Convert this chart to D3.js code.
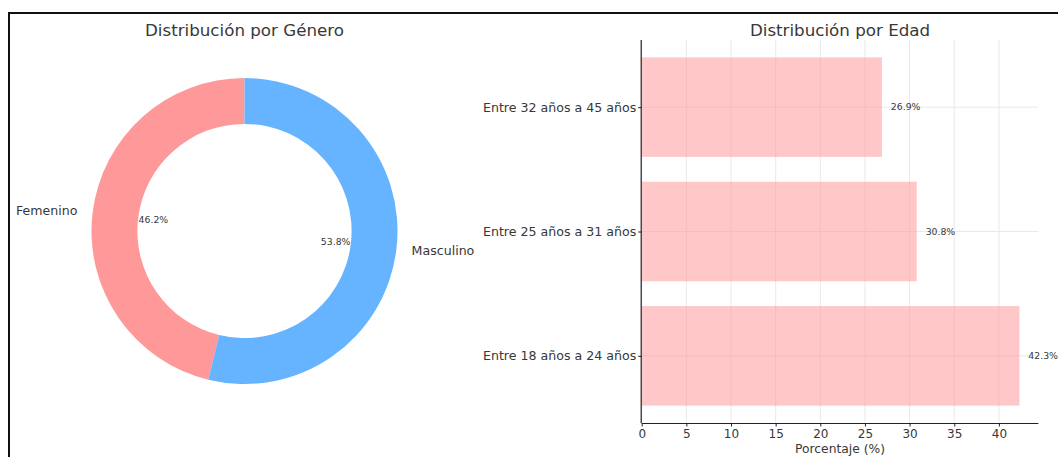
<!DOCTYPE html>
<html>
<head>
<meta charset="utf-8">
<script src="https://cdn.jsdelivr.net/npm/d3@7"></script>
<style>
  html, body { margin: 0; padding: 0; background: #fff; }
  svg { display: block; font-family: "DejaVu Sans", sans-serif; }
</style>
</head>
<body>
<svg id="chart" width="1058" height="457"></svg>
<script>
// Gender split (donut)
const genderLabels = ["Femenino", "Masculino"];
const genderValues = [46.2, 53.8];
const genderColors = ["#ff9999", "#66b3ff"];

// Age split (horizontal bars), listed bottom to top
const ageLabels = ["Entre 18 años a 24 años", "Entre 25 años a 31 años", "Entre 32 años a 45 años"];
const ageValues = [42.3, 30.8, 26.9];
const xTicks = [0, 5, 10, 15, 20, 25, 30, 35, 40];

const svg = d3.select("#chart");
const textColor = "#383838";

// Frame around the figure
svg.append("path")
  .attr("d", "M9,457 V13 H1058")
  .attr("fill", "none")
  .attr("stroke", "#111")
  .attr("stroke-width", 2);

// ---------- Donut ----------
const cx = 244.5, cy = 231, R = 153, r = R * 0.7;
const donut = svg.append("g").attr("transform", `translate(${cx},${cy})`);

svg.append("text")
  .attr("x", cx).attr("y", 36)
  .attr("text-anchor", "middle")
  .attr("font-size", 16.7)
  .attr("fill", textColor)
  .text("Distribución por Género");

// counter-clockwise from the top, first slice going left
const pie = d3.pie().sort(null).startAngle(0).endAngle(-2 * Math.PI);
const arcs = pie(genderValues);
const arc = d3.arc().innerRadius(r).outerRadius(R);

donut.selectAll("path.slice")
  .data(arcs)
  .join("path")
  .attr("class", "slice")
  .attr("d", arc)
  .attr("fill", (d, i) => genderColors[i]);

const labelArc = d3.arc().innerRadius(R * 1.1).outerRadius(R * 1.1);
const pctArc = d3.arc().innerRadius(R * 0.6).outerRadius(R * 0.6);

donut.selectAll("text.cat")
  .data(arcs)
  .join("text")
  .attr("class", "cat")
  .attr("x", d => labelArc.centroid(d)[0])
  .attr("y", d => labelArc.centroid(d)[1])
  .attr("dy", "0.35em")
  .attr("text-anchor", d => labelArc.centroid(d)[0] < 0 ? "end" : "start")
  .attr("font-size", 12.6)
  .attr("fill", textColor)
  .text((d, i) => genderLabels[i]);

donut.selectAll("text.pct")
  .data(arcs)
  .join("text")
  .attr("class", "pct")
  .attr("x", d => pctArc.centroid(d)[0])
  .attr("y", d => pctArc.centroid(d)[1])
  .attr("dy", "0.35em")
  .attr("text-anchor", "middle")
  .attr("font-size", 9.3)
  .attr("fill", textColor)
  .text(d => d.data.toFixed(1) + "%");

// ---------- Bars ----------
const plotLeft = 641.7, plotBottom = 423, plotTop = 40;
const x = d3.scaleLinear().domain([0, d3.max(ageValues) * 1.05]).range([plotLeft, plotLeft + 42.3 * 1.05 * 8.93]);
const y = d3.scaleLinear().domain([-0.54, ageLabels.length - 1 + 0.54]).range([plotBottom, plotTop]);
const barH = y(0) - y(0.8);
const plotRight = x.range()[1];

svg.append("text")
  .attr("x", (plotLeft + plotRight) / 2).attr("y", 36)
  .attr("text-anchor", "middle")
  .attr("font-size", 16.7)
  .attr("fill", textColor)
  .text("Distribución por Edad");

const grid = svg.append("g");
grid.selectAll("line.vx")
  .data(xTicks)
  .join("line")
  .attr("class", "vx")
  .attr("x1", d => x(d)).attr("x2", d => x(d))
  .attr("y1", plotTop).attr("y2", plotBottom)
  .attr("stroke", "#e6e6e6").attr("stroke-width", 0.9);
grid.selectAll("line.hy")
  .data(ageLabels.map((d, i) => i))
  .join("line")
  .attr("class", "hy")
  .attr("x1", plotLeft).attr("x2", plotRight)
  .attr("y1", d => y(d)).attr("y2", d => y(d))
  .attr("stroke", "#e6e6e6").attr("stroke-width", 0.9);

svg.selectAll("rect.bar")
  .data(ageValues)
  .join("rect")
  .attr("class", "bar")
  .attr("x", x(0))
  .attr("y", (d, i) => y(i) - barH / 2)
  .attr("width", d => x(d) - x(0))
  .attr("height", barH)
  .attr("fill", "#ff9999")
  .attr("fill-opacity", 0.55);

svg.selectAll("text.val")
  .data(ageValues)
  .join("text")
  .attr("class", "val")
  .attr("x", d => x(d + 1))
  .attr("y", (d, i) => y(i))
  .attr("dy", "0.35em")
  .attr("font-size", 9.3)
  .attr("fill", textColor)
  .text(d => d.toFixed(1) + "%");

// axes
const xAxis = d3.axisBottom(x).tickValues(xTicks).tickSize(3.5).tickPadding(2.5).tickFormat(d3.format("d"));
const gx = svg.append("g").attr("transform", `translate(0,${plotBottom})`).call(xAxis);
gx.select(".domain").attr("d", `M${plotLeft},0.5H${plotRight}`).attr("stroke", "#222").attr("stroke-width", 1.2);
gx.selectAll(".tick line").attr("stroke", "#222");
gx.selectAll(".tick text").attr("font-size", 12).attr("fill", textColor).attr("font-family", "DejaVu Sans");

const yAxis = d3.axisLeft(y).tickValues(ageLabels.map((d, i) => i)).tickSize(3.5).tickPadding(2).tickFormat(i => ageLabels[i]);
const gy = svg.append("g").attr("transform", `translate(${plotLeft},0)`).call(yAxis);
gy.select(".domain").attr("d", `M-0.5,${plotTop}V${plotBottom}`).attr("stroke", "#222").attr("stroke-width", 1.2);
gy.selectAll(".tick line").attr("stroke", "#222");
gy.selectAll(".tick text").attr("font-size", 12.6).attr("fill", textColor).attr("font-family", "DejaVu Sans");

svg.append("text")
  .attr("x", (plotLeft + plotRight) / 2).attr("y", 453)
  .attr("text-anchor", "middle")
  .attr("font-size", 12.3)
  .attr("fill", textColor)
  .text("Porcentaje (%)");
</script>
</body>
</html>
